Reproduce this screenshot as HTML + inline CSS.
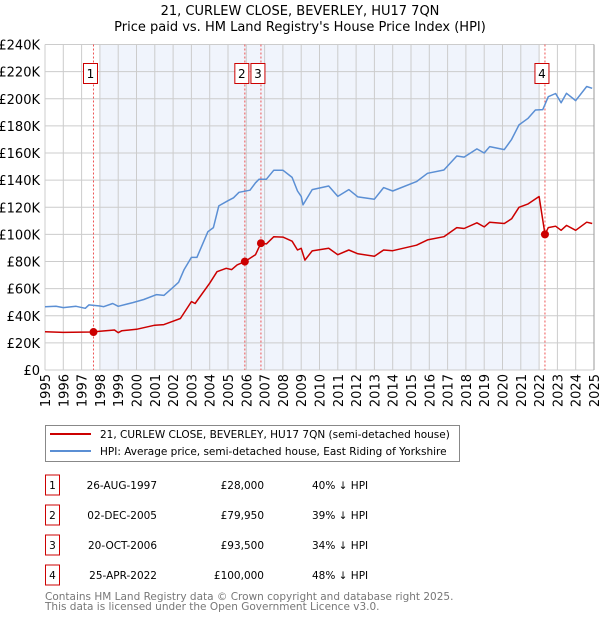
<!DOCTYPE html>
<html><head><meta charset="utf-8"><style>
body{margin:0;background:#fff;font-family:"Liberation Sans","DejaVu Sans",sans-serif;}
svg text{font-family:"DejaVu Sans","Liberation Sans",sans-serif;}
</style></head><body>
<svg id="chart" width="600" height="620" viewBox="0 0 600 620" xmlns="http://www.w3.org/2000/svg"></svg>
<script>
const hpiYears=[1995,1995.6,1996,1996.7,1997.2,1997.4,1998,1998.2,1998.7,1999,1999.8,2000.4,2001.1,2001.5,2002,2002.3,2002.6,2003,2003.3,2003.9,2004.2,2004.5,2005,2005.3,2005.6,2006.2,2006.5,2006.7,2007.1,2007.5,2008,2008.5,2008.8,2009,2009.1,2009.6,2010.5,2011,2011.6,2012.1,2013,2013.5,2014,2015.3,2015.9,2016.8,2017.5,2017.9,2018.6,2019,2019.3,2020.1,2020.5,2020.9,2021.4,2021.8,2022.2,2022.5,2022.9,2023.2,2023.5,2024,2024.6,2024.9];
const hpiValues=[46.7,47,46,47,45.5,48,47.2,46.7,49,47,49.7,52,55.6,55,61,64.7,74,83,83,102,105,121,124.8,127,131,132.6,138,140.7,140.7,147.3,147.3,142,132,128,121.7,133,135.7,128,133,127.6,125.9,134.5,132,138.9,145,147.5,157.8,157,163,160,164.7,162.5,170,180.7,185.6,191.7,192,201.5,203.9,197,204,198.6,209,207.7];
const priceYears=[1995,1996,1997.5,1998,1998.8,1999,1999.2,2000,2001,2001.5,2002,2002.4,2003,2003.2,2004,2004.4,2004.9,2005.2,2005.5,2005.92,2006.5,2006.8,2007.1,2007.5,2008,2008.5,2008.8,2009,2009.2,2009.6,2010.5,2011,2011.6,2012.1,2013,2013.5,2014,2015.3,2015.9,2016.8,2017.5,2017.9,2018.6,2019,2019.3,2020.1,2020.5,2020.9,2021.4,2022.0,2022.32,2022.5,2022.9,2023.2,2023.5,2024,2024.6,2024.9];
const priceValues=[28.2,27.7,28,28.5,29.5,27.5,29,30,33,33.5,36,38,50.4,49,64,72.5,75,74,77.5,79.95,85,93.5,93,98.3,98,95,88.5,89.7,81,87.8,89.7,85,88.5,85.7,83.8,88.5,88,92,95.9,98.3,105,104.3,108.5,105.5,109,108,111.5,120,122.5,127.9,100,105,106,103,106.6,103,109,108];
const saleYears=[1997.65,2005.92,2006.8,2022.32];
const saleValues=[28,79.95,93.5,100];
const saleLabels=["1","2","3","4"];
const yTicks=[0,20,40,60,80,100,120,140,160,180,200,220,240];
const xTicks=[];for(let y=1995;y<=2025;y++)xTicks.push(y);
const tableDates=["26-AUG-1997","02-DEC-2005","20-OCT-2006","25-APR-2022"];
const tablePrices=["£28,000","£79,950","£93,500","£100,000"];
const tableHpi=["40% ↓ HPI","39% ↓ HPI","34% ↓ HPI","48% ↓ HPI"];

const X0=45,X1=594,Y0=370,Y1=44.5;
const xs=v=>X0+(v-1995)/30*(X1-X0);
const ys=v=>Y0-(v/240)*(Y0-Y1);
const svg=document.getElementById('chart');
const NS='http://www.w3.org/2000/svg';
function mk(tag,attrs,parent){const e=document.createElementNS(NS,tag);for(const k in attrs)e.setAttribute(k,attrs[k]);(parent||svg).appendChild(e);return e;}
function txt(s,attrs,parent){const e=mk('text',attrs,parent);e.textContent=s;return e;}

let t=txt('21, CURLEW CLOSE, BEVERLEY, HU17 7QN',{x:300,y:15,'text-anchor':'middle','font-size':13});

t=txt("Price paid vs. HM Land Registry's House Price Index (HPI)",{x:300,y:31,'text-anchor':'middle','font-size':13});


let r=mk('rect',{x:X0,y:Y1,width:X1-X0,height:Y0-Y1,fill:'#fff'});

r=mk('rect',{x:xs(1998),y:Y1,width:xs(2022)-xs(1998),height:Y0-Y1,fill:'#f0f4fc'});


const grid=mk('g',{stroke:'#cccccc','stroke-width':1});

xTicks.forEach(y=>mk('line',{x1:xs(y),x2:xs(y),y1:Y1,y2:Y0},grid));
yTicks.forEach(v=>mk('line',{x1:X0,x2:X1,y1:ys(v),y2:ys(v)},grid));

const ya=mk('g',{'font-size':13,'text-anchor':'end'});

yTicks.forEach(v=>{const l=txt(v===0?'£0':'£'+v+'K',{x:40,y:ys(v)+5},ya);});
const xa=mk('g',{'font-size':13,'text-anchor':'end'});

xTicks.forEach(y=>{const l=txt(String(y),{x:xs(y)+5,y:374,transform:`rotate(-90 ${xs(y)+5} 374)`},xa);});

saleYears.forEach((y,i)=>{
  const l=mk('line',{x1:xs(y),x2:xs(y),y1:Y1,y2:Y0,stroke:'#ee5555','stroke-width':1,'stroke-dasharray':'2,2'});
  
});
function path(xa,va,color,name){
  const d=xa.map((y,i)=>(i?'L':'M')+xs(y).toFixed(1)+','+ys(va[i]).toFixed(1)).join('');
  const p=mk('path',{d:d,fill:'none',stroke:color,'stroke-width':1.5,'stroke-linejoin':'round'});
  
}
path(hpiYears,hpiValues,'#5b8fd4','hpi-line');
path(priceYears,priceValues,'#cc0000','price-line');
saleYears.forEach((y,i)=>{
  const c=mk('circle',{cx:xs(y),cy:ys(saleValues[i]),r:4,fill:'#cc0000'});
  
  const g=mk('g',{});
  
  const bx=xs(y)-10;
  mk('rect',{x:bx,y:63.5,width:14,height:20,fill:'#fff',stroke:'#cc0000','stroke-width':1},g);
  txt(saleLabels[i],{x:bx+7,y:78,'text-anchor':'middle','font-size':12},g);
});
mk('line',{x1:X1,x2:X1,y1:Y1,y2:Y0,stroke:'#999'});

// legend
const lg=mk('g',{});

mk('rect',{x:45.5,y:425.5,width:414,height:36,fill:'#fff',stroke:'#888'},lg);
mk('line',{x1:50,x2:91,y1:434,y2:434,stroke:'#cc0000','stroke-width':2},lg);
let le=txt('21, CURLEW CLOSE, BEVERLEY, HU17 7QN (semi-detached house)',{x:100,y:438,'font-size':10.5},lg);

mk('line',{x1:50,x2:91,y1:451,y2:451,stroke:'#5b8fd4','stroke-width':2},lg);
le=txt('HPI: Average price, semi-detached house, East Riding of Yorkshire',{x:100,y:455,'font-size':10.5},lg);


// table
tableDates.forEach((d,i)=>{
  const g=mk('g',{'font-size':10.5});
  
  const yy=483+i*30;
  mk('rect',{x:45.5,y:yy-8,width:14,height:20,fill:'#fff',stroke:'#cc0000'},g);
  txt(saleLabels[i],{x:52.5,y:yy+6,'text-anchor':'middle'},g);
  txt(d,{x:157,y:yy+6,'text-anchor':'end'},g);
  txt(tablePrices[i],{x:264,y:yy+6,'text-anchor':'end'},g);
  txt(tableHpi[i],{x:312,y:yy+6},g);
});
let f=txt('Contains HM Land Registry data © Crown copyright and database right 2025.',{x:45,y:600,'font-size':10.5,fill:'#777'});

f=txt('This data is licensed under the Open Government Licence v3.0.',{x:45,y:610,'font-size':10.5,fill:'#777'});

</script>
</body></html>
